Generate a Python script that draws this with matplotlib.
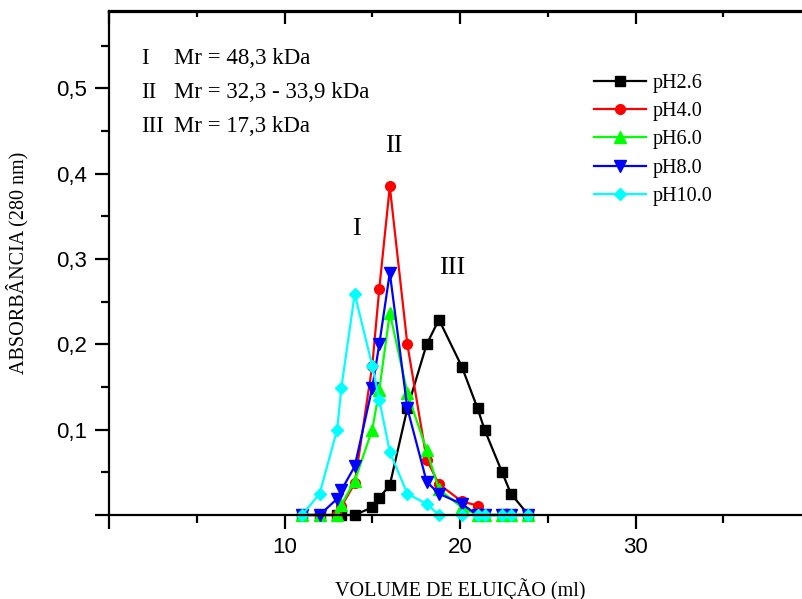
import matplotlib
matplotlib.use("Agg")
import matplotlib.pyplot as plt
from matplotlib.ticker import MultipleLocator, FuncFormatter

# elution volume (ml) of the collected fractions
volume = [11, 12, 13, 13.24, 14, 15, 15.4, 16, 17, 18.1, 18.8, 20.1, 21, 21.4, 22.4, 22.9, 23.9]

ph26 = [0, 0, 0, 0, 0, 0.009, 0.02, 0.035, 0.125, 0.2, 0.229, 0.174, 0.125, 0.1, 0.05, 0.025, 0]
ph40 = [0, 0, 0, 0.01, 0.037, 0.175, 0.265, 0.385, 0.2, 0.065, 0.036, 0.016, 0.011, 0, 0, 0, 0]
ph60 = [0, 0, 0, 0.012, 0.04, 0.1, 0.146, 0.237, 0.143, 0.076, 0.03, 0.009, 0, 0, 0, 0, 0]
ph80 = [0, 0, 0.019, 0.029, 0.057, 0.149, 0.2, 0.284, 0.125, 0.039, 0.025, 0.013, 0, 0, 0, 0, 0]
ph100 = [0, 0.025, 0.1, 0.149, 0.259, 0.175, 0.135, 0.074, 0.025, 0.013, 0, 0, 0, 0, 0, 0, 0]

series = [
    ("pH2.6", ph26, "black", "s", 6.5),
    ("pH4.0", ph40, "#ff0000", "o", 7),
    ("pH6.0", ph60, "#00ff00", "^", 8),
    ("pH8.0", ph80, "#0000ff", "v", 8),
    ("pH10.0", ph100, "#00ffff", "D", 6.5),
]

serif = "Liberation Serif"
sans = "Liberation Sans"

fig = plt.figure(figsize=(8.02, 5.99), dpi=100)
ax = fig.add_axes([109 / 802, 84 / 599, 702 / 802, 503.5 / 599])

for label, vals, color, marker, ms in series:
    ax.plot(volume, vals, color=color, marker=marker, markersize=ms,
            linewidth=1.6, label=label, clip_on=False)

ax.set_xlim(0, 40)
ax.set_ylim(0, 0.59)
ax.xaxis.set_major_locator(MultipleLocator(10))
ax.xaxis.set_minor_locator(MultipleLocator(5))
ax.yaxis.set_major_locator(MultipleLocator(0.1))
ax.yaxis.set_minor_locator(MultipleLocator(0.05))
ax.xaxis.set_major_formatter(
    FuncFormatter(lambda v, p: f"{v:g}" if 0 < v < 40 else "")
)
ax.yaxis.set_major_formatter(
    FuncFormatter(lambda v, p: "" if abs(v) < 1e-9 else f"{v:.1f}".replace(".", ","))
)

for s in ax.spines.values():
    s.set_linewidth(1.6)
ax.spines["right"].set_visible(False)

ax.tick_params(axis="both", which="major", direction="out", length=10, width=1.6,
               labelsize=16, pad=6)
ax.tick_params(axis="both", which="minor", direction="out", length=5.5, width=1.6)
for t in ax.get_xticklabels() + ax.get_yticklabels():
    t.set_fontfamily(sans)

top = ax.secondary_xaxis("top")
top.xaxis.set_major_locator(MultipleLocator(10))
top.xaxis.set_minor_locator(MultipleLocator(5))
top.tick_params(which="major", direction="in", length=9, width=1.6, labeltop=False)
top.tick_params(which="minor", direction="in", length=4.5, width=1.6)
top.spines["top"].set_linewidth(1.6)

ax.set_xlabel("VOLUME DE ELUIÇÃO (ml)", fontfamily=serif, fontsize=14.5, labelpad=14)
ax.set_ylabel("ABSORBÂNCIA (280 nm)", fontfamily=serif, fontsize=14.5, labelpad=20)

# peak labels
ax.text(14.11, 0.335, "I", fontfamily=serif, fontsize=19, ha="center", va="center")
ax.text(16.24, 0.432, "II", fontfamily=serif, fontsize=19, ha="center", va="center")
ax.text(19.58, 0.29, "III", fontfamily=serif, fontsize=19, ha="center", va="center")

# molecular mass notes
notes = [("I", "Mr = 48,3 kDa", 0.5355), ("II", "Mr = 32,3 - 33,9 kDa", 0.4945),
         ("III", "Mr = 17,3 kDa", 0.4547)]
for num, txt, y in notes:
    ax.text(1.82, y, num, fontfamily=serif, fontsize=16.5, ha="left", va="center")
    ax.text(3.7, y, txt, fontfamily=serif, fontsize=16.5, ha="left", va="center")

ax.legend(loc="upper left", bbox_to_anchor=(584 / 802, 1 - 64 / 599),
          bbox_transform=fig.transFigure, frameon=False, handlelength=2.6,
          handletextpad=0.3, labelspacing=0.45, borderpad=0,
          prop={"family": serif, "size": 14.5})

fig.savefig("out.png", dpi=100)
